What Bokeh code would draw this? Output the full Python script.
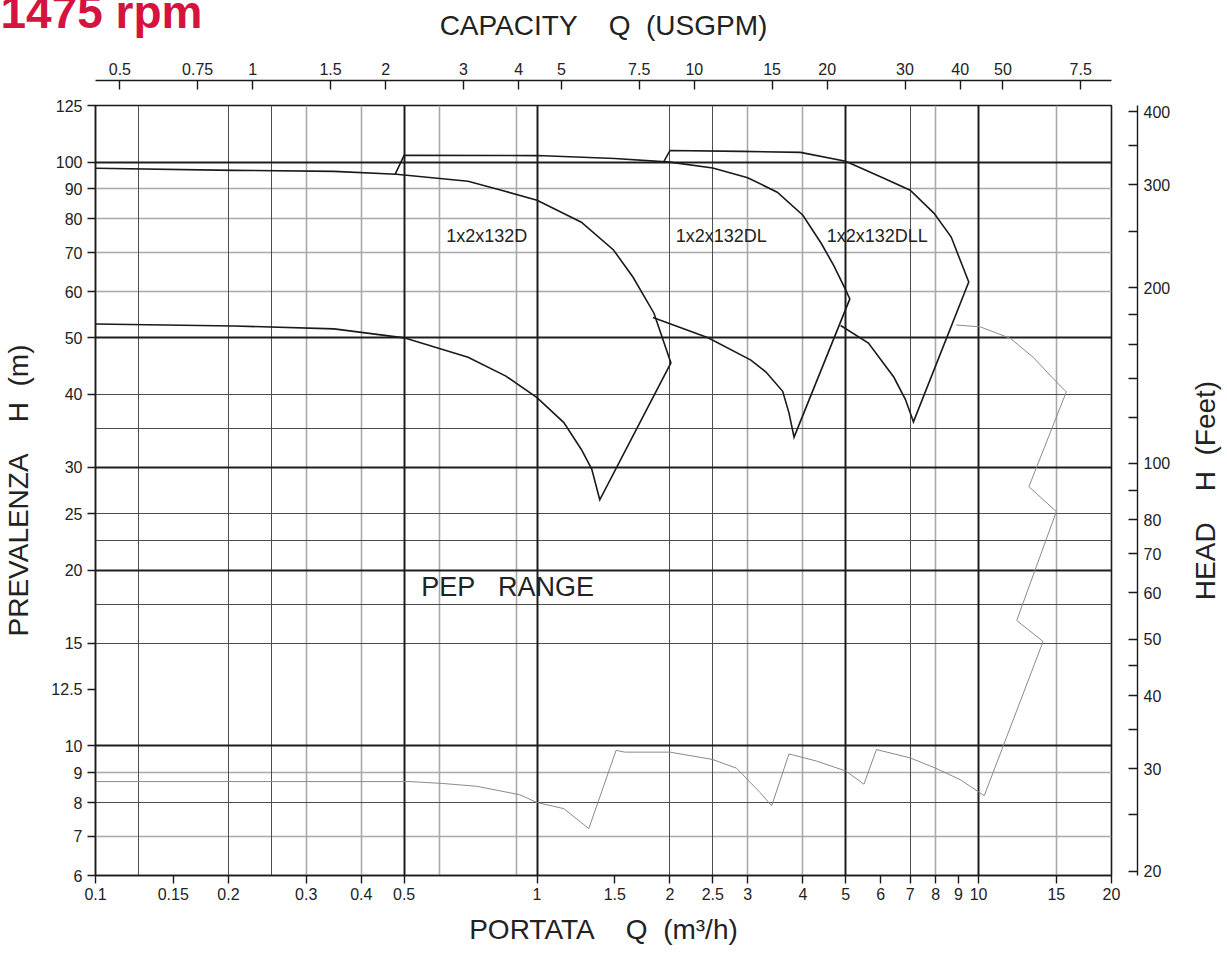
import math
from bokeh.plotting import figure
from bokeh.models import LogAxis, FixedTicker, Grid, Range1d, LogScale, Label, Title
from bokeh.embed import file_html
from bokeh.resources import INLINE

# ---------------- data ----------------
# axis ticks
q_ticks = [0.1, 0.15, 0.2, 0.3, 0.4, 0.5, 1, 1.5, 2, 2.5, 3, 4, 5, 6, 7, 8, 9, 10, 15, 20]
h_ticks = [6, 7, 8, 9, 10, 12.5, 15, 20, 25, 30, 40, 50, 60, 70, 80, 90, 100, 125]
gpm_ticks = [0.5, 0.75, 1, 1.5, 2, 3, 4, 5, 7.5, 10, 15, 20, 30, 40, 50, 75]
gpm_labels = ["0.5", "0.75", "1", "1.5", "2", "3", "4", "5", "7.5", "10", "15", "20", "30", "40", "50", "7.5"]
ft_ticks = [20, 30, 40, 50, 60, 70, 80, 100, 200, 300, 400]
ft_minor = [25, 35, 45, 90, 120, 140, 160, 180, 250, 350]

# grid lines
grid_q_bold = [0.5, 1, 5, 10]
grid_q_dark = [0.125, 0.2, 0.25, 2, 2.5, 7]
grid_q_light = [0.3, 0.4, 0.6, 0.9, 3, 4, 8, 15]
grid_h_bold = [10, 20, 30, 50, 100]
grid_h_dark = [8, 15, 17.5, 22.5, 25, 35, 40]
grid_h_light = [7, 9, 60, 70, 80, 90]

# 1x2x132D : max impeller -> right limit -> min impeller (back)
q_d = [0.1, 0.206, 0.347, 0.48, 0.698, 0.83, 1.0, 1.26, 1.49, 1.65, 1.84, 2.01,
       1.387, 1.33, 1.26, 1.15, 1.0, 0.85, 0.698, 0.5, 0.347, 0.206, 0.1]
h_d = [97.6, 96.8, 96.4, 95.3, 92.7, 89.5, 86.0, 78.9, 70.7, 63.5, 55.1, 45.3,
       26.4, 29.8, 32.2, 35.8, 39.5, 43.0, 46.3, 50.0, 51.8, 52.4, 52.8]

# 1x2x132DL
q_dl = [0.477, 0.5, 1.0, 1.5, 2.0, 2.5, 3.0, 3.5, 4.0, 4.4, 4.7, 5.0, 5.11,
        3.82, 3.72, 3.6, 3.3, 3.05, 2.44, 1.83]
h_dl = [95.3, 102.7, 102.6, 101.4, 100.0, 97.7, 94.0, 88.8, 81.1, 72.6, 66.5, 60.4, 58.3,
        33.8, 37.2, 40.5, 43.7, 45.8, 50.0, 54.2]

# 1x2x132DLL
q_dll = [1.94, 2.0, 2.9, 3.95, 5.0, 6.1, 7.0, 7.93, 8.67, 9.5,
         7.12, 6.83, 6.43, 5.63, 4.87]
h_dll = [100.4, 104.7, 104.3, 103.9, 100.3, 93.8, 89.5, 81.7, 74.4, 62.3,
         35.9, 39.2, 42.8, 49.0, 52.5]

# thin grey curve
q_thin = [0.1, 0.513, 0.606, 0.73, 0.914, 1.0, 1.15, 1.31, 1.51, 1.58, 2.0, 2.5, 2.83, 3.0,
          3.2, 3.4, 3.72, 4.3, 5.0, 5.5, 5.87, 7.0, 8.0, 9.1, 10.3, 14.0, 12.2, 15.0, 13.0,
          15.8, 14.7, 13.3, 11.8, 10.1, 8.9]
h_thin = [8.69, 8.69, 8.63, 8.53, 8.25, 8.0, 7.81, 7.22, 9.83, 9.76, 9.76, 9.48, 9.16, 8.75,
          8.32, 7.9, 9.69, 9.42, 9.06, 8.6, 9.86, 9.54, 9.16, 8.75, 8.22, 15.1, 16.4, 25.2, 27.8,
          40.4, 42.7, 46.3, 49.9, 52.2, 52.6]

model_names = ["1x2x132D", "1x2x132DL", "1x2x132DLL"]
model_label_q = [0.623, 2.06, 4.53]
model_label_h = [74.6, 74.6, 74.6]

M3H_TO_GPM = 4.402868
M_TO_FT = 3.28084

FONT = "Liberation Sans"
INK = "#1a1a1a"
SP = "\u00a0"

p = figure(width=1222, height=951, x_axis_type="log", y_axis_type="log",
           x_range=Range1d(0.1, 20), y_range=Range1d(6, 125),
           output_backend="svg", toolbar_location=None, title_location=None,
           min_border_left=94, min_border_right=111, min_border_top=105, min_border_bottom=76)
p.grid.visible = False
p.background_fill_color = "white"
p.border_fill_color = "white"
p.outline_line_color = INK
p.outline_line_width = 1.6

def style_axis(ax, ticks, labels=None, tin=0, tout=8, minor=None):
    ax.ticker = FixedTicker(ticks=ticks, minor_ticks=minor or [])
    if labels is None:
        labels = [("%g" % t) for t in ticks]
    ax.major_label_overrides = {t: l for t, l in zip(ticks, labels)}
    ax.major_tick_in = tin
    ax.major_tick_out = tout
    ax.minor_tick_in = tin if minor else 0
    ax.minor_tick_out = tout if minor else 0
    ax.axis_line_color = INK
    ax.axis_line_width = 1.4
    ax.major_tick_line_color = INK
    ax.major_tick_line_width = 1.4
    ax.minor_tick_line_color = INK
    ax.minor_tick_line_width = 1.4
    ax.major_label_text_font = FONT
    ax.major_label_text_font_size = "16px"
    ax.major_label_text_color = "#222222"
    ax.axis_label_text_font = FONT
    ax.axis_label_text_font_size = "28px"
    ax.axis_label_text_font_style = "normal"
    ax.axis_label_text_color = "#222222"

# bottom axis
xb = p.xaxis[0]
style_axis(xb, q_ticks, tout=8)
xb.major_label_standoff = 4
xb.axis_label = "PORTATA" + SP * 4 + "Q" + SP * 2 + "(m³/h)"
xb.axis_label_standoff = 11

# left axis
yl = p.yaxis[0]
style_axis(yl, h_ticks, tout=8)
yl.major_label_standoff = 5
yl.axis_label = "PREVALENZA" + SP * 4 + "H" + SP * 2 + "(m)"
yl.axis_label_standoff = 14

# extra ranges for secondary units
p.extra_x_ranges = {"gpm": Range1d(0.1 * M3H_TO_GPM, 20 * M3H_TO_GPM)}
p.extra_x_scales = {"gpm": LogScale()}
p.extra_y_ranges = {"ft": Range1d(6 * M_TO_FT, 125 * M_TO_FT)}
p.extra_y_scales = {"ft": LogScale()}

# spacer axes (transparent) to offset the secondary axes from the frame
def spacer(tick, gap):
    ax = LogAxis(ticker=FixedTicker(ticks=[tick], minor_ticks=[]), major_tick_out=gap, major_tick_in=0,
                 minor_tick_out=0, minor_tick_in=0, axis_line_color=None,
                 major_tick_line_color=None, minor_tick_line_color=None,
                 major_label_overrides={tick: ""}, major_label_text_font_size="0px",
                 major_label_standoff=0)
    return ax

p.add_layout(spacer(1, 25), "above")
p.add_layout(spacer(20, 26), "right")

# top axis: USGPM
xt = LogAxis(x_range_name="gpm")
style_axis(xt, gpm_ticks, gpm_labels, tin=9, tout=0)
xt.major_label_standoff = 6
xt.axis_label = "CAPACITY" + SP * 4 + "Q" + SP * 2 + "(USGPM)"
xt.axis_label_standoff = 19
p.add_layout(xt, "above")

# right axis: feet
yr = LogAxis(y_range_name="ft")
style_axis(yr, ft_ticks, tin=9, tout=0, minor=ft_minor)
yr.major_label_standoff = 6
p.add_layout(yr, "right")

# right axis title, reading bottom-to-top, centred on the frame
p.add_layout(Label(x=32, y=385, x_units="screen", y_units="screen",
                   text="HEAD" + SP * 4 + "H" + SP * 2 + "(Feet)", angle=math.pi / 2,
                   text_font=FONT, text_font_size="28px", text_color="#222222",
                   text_align="center", text_baseline="middle"), "right")

# speed title (outermost, overlapping the top band)
p.add_layout(Title(text="1475 rpm", align="left", offset=-95, standoff=-62,
                   vertical_align="bottom", text_font=FONT, text_font_size="46px",
                   text_font_style="bold", text_color="#d4143f"), "above")

# grids
for dim, ticks, color, width in [
    (0, grid_q_light, "#a9a9a9", 1.6), (1, grid_h_light, "#a9a9a9", 1.6),
    (0, grid_q_dark, "#4d4d4d", 1.0), (1, grid_h_dark, "#4d4d4d", 1.0),
    (0, grid_q_bold, "#1e1e1e", 2.0), (1, grid_h_bold, "#1e1e1e", 2.0)]:
    p.add_layout(Grid(dimension=dim, ticker=FixedTicker(ticks=ticks),
                      grid_line_color=color, grid_line_width=width))

# curves
p.line(q_thin, h_thin, line_color="#8a8a8a", line_width=1.0)
for qs, hs in [(q_d, h_d), (q_dl, h_dl), (q_dll, h_dll)]:
    p.line(qs, hs, line_color=INK, line_width=1.6, line_join="miter")

# curve names
for name, qx, hy in zip(model_names, model_label_q, model_label_h):
    p.add_layout(Label(x=qx, y=hy, text=name, text_font=FONT, text_font_size="18px",
                       text_color="#222222", text_baseline="middle", text_align="left"))

p.add_layout(Label(x=0.547, y=18.7, text="PEP" + SP * 3 + "RANGE", text_font=FONT,
                   text_font_size="27px", text_color="#222222",
                   text_baseline="middle", text_align="left"))

open("out.html", "w").write(file_html(p, INLINE))
